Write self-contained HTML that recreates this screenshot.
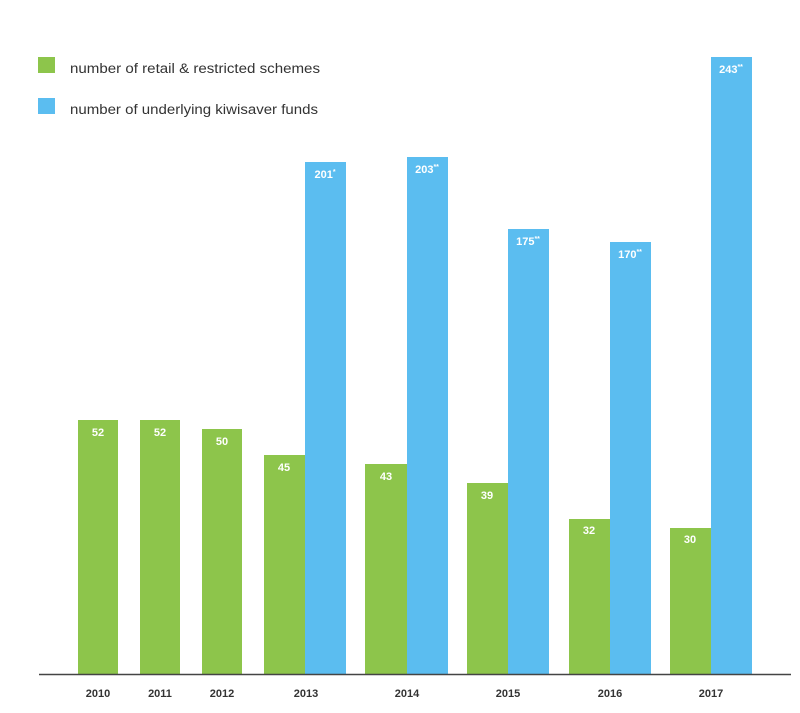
<!DOCTYPE html>
<html><head><meta charset="utf-8"><style>
html,body{margin:0;padding:0;background:#fff;}
svg{display:block;}
text{font-family:"Liberation Sans",sans-serif;}
</style></head><body>
<svg width="800" height="713" viewBox="0 0 800 713" xmlns="http://www.w3.org/2000/svg">
<rect width="800" height="713" fill="#fff"/>
<!-- legend -->
<rect x="38" y="57" width="17" height="16" fill="#8dc54b"/>
<rect x="38" y="98" width="17" height="16" fill="#5bbdf0"/>
<text x="70" y="73" font-size="13.5" fill="#333" textLength="250" lengthAdjust="spacingAndGlyphs">number of retail &amp; restricted schemes</text>
<text x="70" y="114" font-size="13.5" fill="#333" textLength="248" lengthAdjust="spacingAndGlyphs">number of underlying kiwisaver funds</text>

<g fill="#8dc54b">
<rect x="78" y="420" width="40" height="254"/>
<rect x="140" y="420" width="40" height="254"/>
<rect x="202" y="429" width="40" height="245"/>
<rect x="264" y="455" width="41" height="219"/>
<rect x="365" y="464" width="42" height="210"/>
<rect x="467" y="483" width="41" height="191"/>
<rect x="569" y="519" width="41" height="155"/>
<rect x="670" y="528" width="41" height="146"/>
</g>
<g fill="#5bbdf0">
<rect x="305" y="162" width="41" height="512"/>
<rect x="407" y="157" width="41" height="517"/>
<rect x="508" y="229" width="41" height="445"/>
<rect x="610" y="242" width="41" height="432"/>
<rect x="711" y="57" width="41" height="617"/>
</g>

<g font-size="11" font-weight="bold" fill="#fff" text-anchor="middle">
<text x="98" y="436">52</text>
<text x="160" y="436">52</text>
<text x="222" y="445">50</text>
<text x="284" y="471">45</text>
<text x="386" y="480">43</text>
<text x="487" y="499">39</text>
<text x="589" y="534">32</text>
<text x="690" y="543">30</text>
<text x="325" y="178">201<tspan font-size="7" dy="-4">*</tspan></text>
<text x="427" y="173">203<tspan font-size="7" dy="-4">**</tspan></text>
<text x="528" y="245">175<tspan font-size="7" dy="-4">**</tspan></text>
<text x="630" y="258">170<tspan font-size="7" dy="-4">**</tspan></text>
<text x="731" y="73">243<tspan font-size="7" dy="-4">**</tspan></text>
</g>

<line x1="39" y1="674.5" x2="791" y2="674.5" stroke="#444" stroke-width="1.5"/>

<g font-size="11" font-weight="bold" fill="#333" text-anchor="middle">
<text x="98" y="697">2010</text>
<text x="160" y="697">2011</text>
<text x="222" y="697">2012</text>
<text x="306" y="697">2013</text>
<text x="407" y="697">2014</text>
<text x="508" y="697">2015</text>
<text x="610" y="697">2016</text>
<text x="711" y="697">2017</text>
</g>
</svg>
</body></html>
